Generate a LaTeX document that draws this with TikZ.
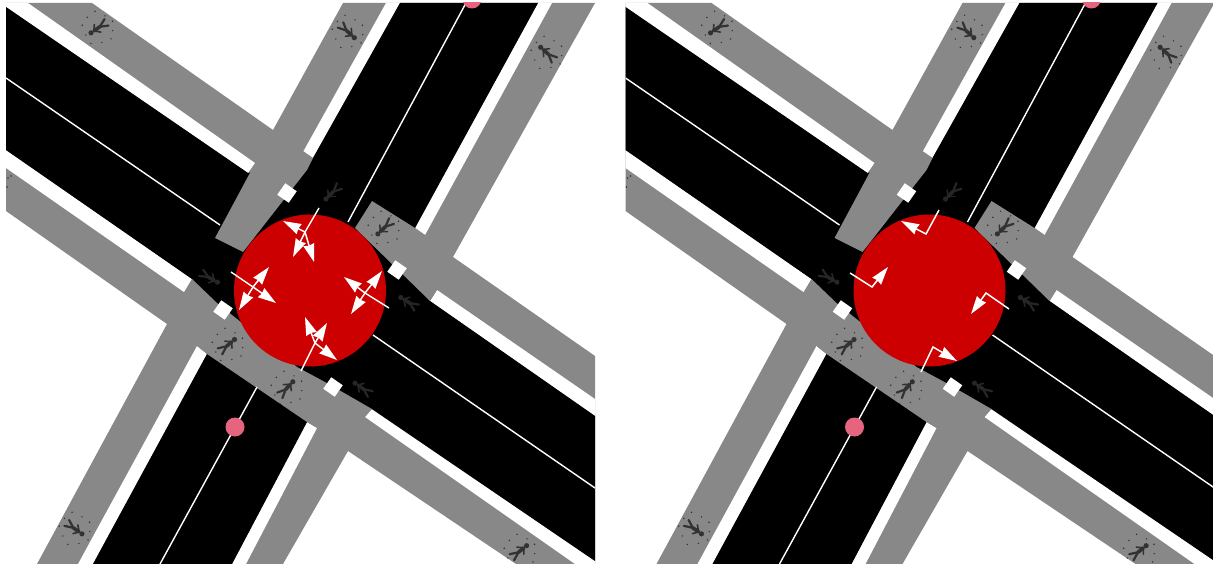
\documentclass[tikz,border=0pt]{standalone}
\usetikzlibrary{arrows.meta}
\definecolor{roadgray}{RGB}{136,136,136}
\definecolor{discred}{RGB}{204,0,0}
\definecolor{dotpink}{RGB}{230,100,125}
\definecolor{figgray}{RGB}{50,50,50}
\definecolor{figfaint}{RGB}{38,38,38}
\tikzset{
  laneline/.style={white,line width=1.4pt},
  turnflow/.style={white,line width=1.5pt,-{Stealth[length=18pt,width=11pt,inset=1pt]}},
  gapsq/.style={fill=white,rotate=-35,minimum size=14pt,inner sep=0pt},
  pinkdot/.style={circle,fill=dotpink,minimum size=19pt,inner sep=0pt}
}
% one walking figure: x, y, turn, colour
\newcommand{\walker}[4]{%
  \begin{scope}[shift={(#1,#2)},rotate=#3,#4,line cap=round]
    \fill (0,-8.5) circle (2.6);
    \draw[line width=3.6pt] (0,-5) -- (0,2);
    \draw[line width=2.2pt] (0,2) -- (-4,10);
    \draw[line width=2.2pt] (0,2) -- (3.5,10.5);
    \draw[line width=1.6pt] (0,-5) -- (-5,0);
    \draw[line width=1.6pt] (0,-5) -- (5,-1);
  \end{scope}}
% specks round a figure on the gray
\newcommand{\specks}[2]{%
  \begin{scope}[shift={(#1,#2)},figgray]
    \foreach \a/\r in {10/15,40/17,75/15,115/17,150/14,190/16,225/15,260/17,300/14,335/16}
      \fill (\a:\r) circle (0.8);
  \end{scope}}
% everything that both halves share
\newcommand{\crossing}{%
  \clip (6,3) rectangle (595,564);
  \fill[roadgray] (6,211) -- (167,324) -- (37,564) -- (283,564) -- (348,451) -- (516,564)
    -- (595,564) -- (595,356) -- (453,257) -- (595,3) -- (343,3) -- (273,130) -- (92,3) -- (6,3) -- cycle;
  % white edges of the carriageway
  \fill[white] (6,3) -- (28,3) -- (255,163) -- (248,173) -- (6,7) -- cycle;
  \fill[white] (6,150) -- (192,279) -- (184,292) -- (6,168) -- cycle;
  \fill[white] (386,3) -- (400,3) -- (313,158) -- (303,152) -- cycle;
  \fill[white] (538,3) -- (552,3) -- (425,235) -- (415,228) -- cycle;
  \fill[white] (437,290) -- (595,399) -- (595,416) -- (430,301) -- cycle;
  \fill[white] (370,408) -- (595,561) -- (595,564) -- (575,564) -- (365,417) -- cycle;
  \fill[white] (197,346) -- (207,354) -- (93,564) -- (78,564) -- cycle;
  \fill[white] (307,422) -- (317,428) -- (246,564) -- (232,564) -- cycle;
  \fill[black] (6,7) -- (248,173) -- (313,158) -- (400,3) -- (538,3) -- (415,228) -- (430,301)
    -- (595,416) -- (595,561) -- (372,409) -- (307,422) -- (232,564) -- (93,564) -- (207,354)
    -- (192,279) -- (6,150) -- cycle;
  % crosswalks
  \fill[roadgray] (273,130) -- (313,158) -- (307,170) -- (243,252) -- (215,238) -- cycle;
  \fill[roadgray] (372,201) -- (415,228) -- (425,235) -- (453,257) -- (437,290) -- (430,301) -- (355,228) -- cycle;
  \fill[roadgray] (167,324) -- (192,279) -- (217,303) -- (297,367) -- (325,382) -- (372,409) -- (365,417)
    -- (348,451) -- (317,428) -- (307,422) -- (207,354) -- (197,346) -- cycle;
  \node[gapsq] (gapa) at (287,193) {};
  \node[gapsq] (gapb) at (397,270) {};
  \node[gapsq] (gapc) at (223,310) {};
  \node[gapsq] (gapd) at (333,387) {};
  % lane lines
  \draw[laneline] (6,78) -- (220,225);
  \draw[laneline] (466,3) -- (348,222);
  \draw[laneline] (373,335) -- (595,488);
  \draw[laneline] (257,387) -- (160,564);
  \node[pinkdot] (dottop) at (472,-1) {};
  \node[pinkdot] (dotlow) at (235,427) {};
  \fill[discred] (310,290.5) circle (76);
  % figures on the gray
  \walker{98}{28}{125}{figgray} \specks{98}{28}
  \walker{348}{32}{-132}{figgray} \specks{348}{32}
  \walker{547}{53}{48}{figgray} \specks{547}{53}
  \walker{384}{228}{134}{figgray} \specks{384}{228}
  \walker{228}{345}{-50}{figgray} \specks{228}{345}
  \walker{287}{388}{-43}{figgray} \specks{287}{388}
  \walker{75}{529}{-125}{figgray} \specks{75}{529}
  \walker{520}{551}{-51}{figgray} \specks{520}{551}
  \fill[figgray] (8,178) circle (0.8) (11,176) circle (0.8) (7,187) circle (0.8);
  % figures on the black
  \walker{332}{193}{135}{figfaint}
  \walker{210}{278}{-119}{figfaint}
  \walker{408}{302}{58}{figfaint}
  \walker{362}{388}{55}{figfaint}
}

\begin{document}
\begin{tikzpicture}[x=1pt,y=-1pt]
\useasboundingbox (0,0) rectangle (1213,564);
\begin{scope}
  \crossing
  % all turns allowed
  \draw[laneline] (319,208) -- (305,232);
  \draw[turnflow] (305,232) -- (283,221);
  \draw[turnflow] (305,232) -- (293,257);
  \draw[turnflow] (305,232) -- (314,262);
  \draw[laneline] (231,272) -- (253,287);
  \draw[turnflow] (253,287) -- (269,267);
  \draw[turnflow] (253,287) -- (239,310);
  \draw[turnflow] (253,287) -- (276,303);
  \draw[laneline] (389,308) -- (365,293);
  \draw[turnflow] (365,293) -- (344,277);
  \draw[turnflow] (365,293) -- (382,271);
  \draw[turnflow] (365,293) -- (351,314);
  \draw[laneline] (301,371) -- (315,343);
  \draw[turnflow] (315,343) -- (305,317);
  \draw[turnflow] (315,343) -- (327,323);
  \draw[turnflow] (315,343) -- (337,360);
\end{scope}
\begin{scope}[xshift=619.5pt]
  \crossing
\end{scope}
% one turn each
\draw[turnflow] (939,210) -- (926,234) -- (901,221);
\draw[turnflow] (850,273) -- (872,287) -- (888,267);
\draw[turnflow] (1009,309) -- (986,293) -- (971,314);
\draw[turnflow] (921,372) -- (933,347) -- (957,361);
\end{tikzpicture}
\end{document}
